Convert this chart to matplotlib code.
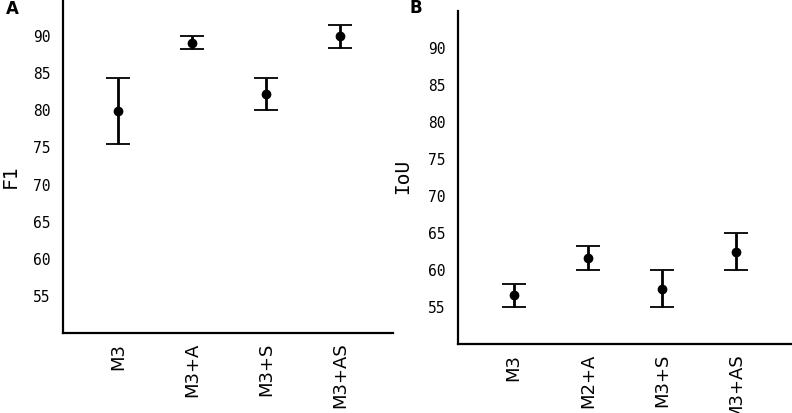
import numpy as np
import matplotlib
matplotlib.use('Agg')
import matplotlib.pyplot as plt

# %% Data

labels_a = ['M3', 'M3+A', 'M3+S', 'M3+AS']
f1_mean = [79.9, 89.1, 82.2, 90.0]
f1_low = [75.5, 88.3, 80.0, 88.4]
f1_high = [84.3, 90.0, 84.4, 91.5]

labels_b = ['M3', 'M2+A', 'M3+S', 'M3+AS']
iou_mean = [56.6, 61.6, 57.5, 62.4]
iou_low = [55.0, 60.0, 55.0, 60.0]
iou_high = [58.1, 63.2, 60.0, 65.0]

yticks = [55, 60, 65, 70, 75, 80, 85, 90]

# %% Helper

def panel(ax, labels, mean, low, high):
    x = np.arange(len(labels))
    mean = np.array(mean)
    yerr = [mean - np.array(low), np.array(high) - mean]
    _, caps, _ = ax.errorbar(x, mean, yerr=yerr, fmt='o', color='black', ecolor='black',
                             elinewidth=2, markersize=6, capsize=8.5, capthick=1.3)
    for c in caps:
        c.set_color('#666666')
    ax.set_xlim(-0.75, 3.72)
    ax.set_ylim(50, 95)
    ax.set_yticks(yticks)
    ax.set_xticks(x)
    ax.set_xticklabels(labels, rotation=90, fontsize=13, family='DejaVu Sans')
    for t in ax.get_yticklabels():
        t.set_family('DejaVu Sans Mono')
        t.set_fontsize(10.5)
    ax.tick_params(axis='y', length=0, pad=9)
    ax.tick_params(axis='x', length=0, pad=7)
    ax.spines['top'].set_visible(False)
    ax.spines['right'].set_visible(False)
    for s in ['left', 'bottom']:
        ax.spines[s].set_linewidth(1.6)

# %% Figure

fig = plt.figure(figsize=(7.92, 4.13), dpi=100)
W, H = 792.0, 413.0

ax_a = fig.add_axes([63 / W, (H - 333) / H, 330 / W, 334 / H])
panel(ax_a, labels_a, f1_mean, f1_low, f1_high)

ax_b = fig.add_axes([458 / W, (H - 344) / H, 334 / W, 333 / H])
panel(ax_b, labels_b, iou_mean, iou_low, iou_high)
ax_b.set_xlim(-0.75, 3.75)

fig.text(10 / W, 1 - 176 / H, 'F1', rotation=90, ha='center', va='center',
         fontsize=14, family='DejaVu Sans Mono')
fig.text(403 / W, 1 - 176 / H, 'IoU', rotation=90, ha='center', va='center',
         fontsize=14, family='DejaVu Sans Mono')

fig.text(12 / W, 1 - 9 / H, 'A', ha='center', va='center', fontsize=12,
         fontweight='bold', family='DejaVu Sans')
fig.text(416 / W, 1 - 8 / H, 'B', ha='center', va='center', fontsize=12,
         fontweight='bold', family='DejaVu Sans')

fig.savefig('out.png', dpi=100, facecolor='white')
